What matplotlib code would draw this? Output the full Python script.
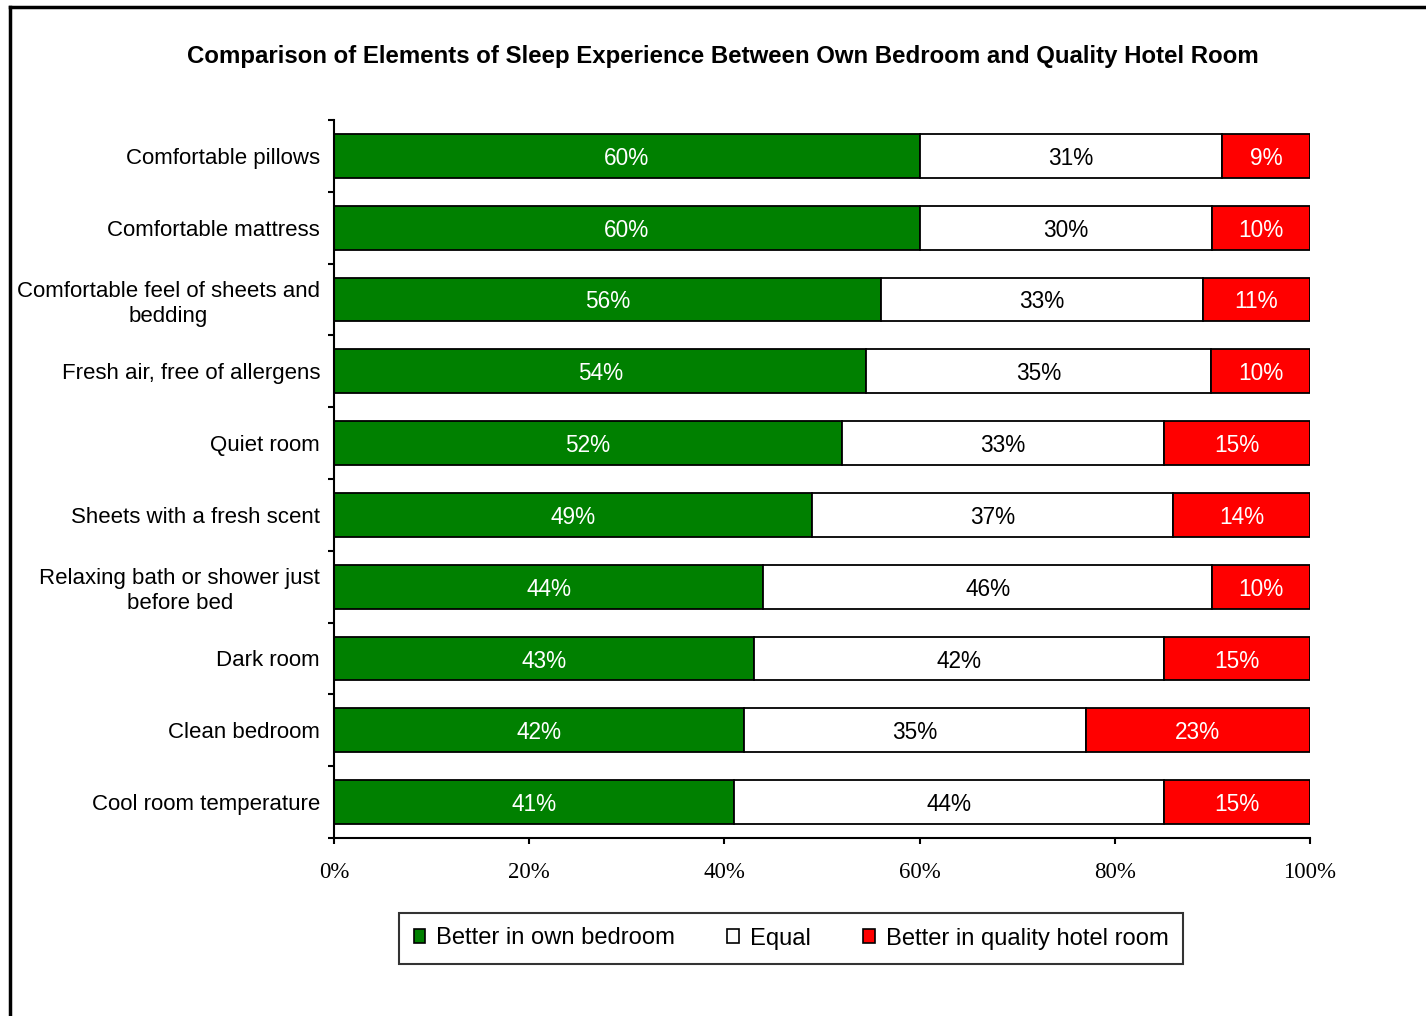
import matplotlib
matplotlib.use("Agg")
import matplotlib.pyplot as plt
from matplotlib.patches import Patch
from matplotlib.lines import Line2D
import numpy as np

categories = [
    "Comfortable pillows",
    "Comfortable mattress",
    "Comfortable feel of sheets and\nbedding",
    "Fresh air, free of allergens",
    "Quiet room",
    "Sheets with a fresh scent",
    "Relaxing bath or shower just\nbefore bed",
    "Dark room",
    "Clean bedroom",
    "Cool room temperature",
]
own_bedroom = [60, 60, 56, 54, 52, 49, 44, 43, 42, 41]
equal = [31, 30, 33, 35, 33, 37, 46, 42, 35, 44]
hotel_room = [9, 10, 11, 10, 15, 14, 10, 15, 23, 15]

series_names = ["Better in own bedroom", "Equal", "Better in quality hotel room"]
series_colors = ["#008000", "#ffffff", "#ff0000"]
text_colors = ["white", "black", "white"]
x_ticks = [0, 20, 40, 60, 80, 100]

sans = "Liberation Sans"
serif = "Liberation Serif"

fig = plt.figure(figsize=(14.26, 10.16), dpi=100, facecolor="white")
ax = fig.add_axes([334 / 1426, 178 / 1016, 976 / 1426, 718 / 1016])

data = np.array([own_bedroom, equal, hotel_room], dtype=float)
shares = data / data.sum(axis=0) * 100  # 100% stacked, like the spreadsheet chart
ypos = np.arange(len(categories))
left = np.zeros(len(categories))
for i in range(3):
    ax.barh(ypos, shares[i], left=left, height=0.61, color=series_colors[i],
            edgecolor="black", linewidth=1.3, zorder=2)
    for y, l, w, v in zip(ypos, left, shares[i], data[i]):
        ax.text(l + w / 2, y, "%d%%" % v, ha="center", va="center_baseline",
                color=text_colors[i], fontsize=16.3, family=sans, zorder=3)
    left += shares[i]

ax.set_xlim(0, 100)
ax.set_ylim(len(categories) - 0.5, -0.5)

ax.spines["top"].set_visible(False)
ax.spines["right"].set_visible(False)
ax.spines["left"].set_linewidth(1.5)
ax.spines["bottom"].set_linewidth(1.5)

ax.set_xticks(x_ticks)
ax.set_xticklabels(["%d%%" % t for t in x_ticks], family=serif, fontsize=16.5)
ax.tick_params(axis="x", direction="out", length=4.5, width=1.5, pad=13)

# category names sit between the boundary ticks
ax.set_yticks(ypos)
ax.set_yticklabels(categories, family=sans, fontsize=16)
for lab in ax.get_yticklabels():
    lab.set_multialignment("center")
    lab.set_linespacing(1.25)
ax.tick_params(axis="y", which="major", length=0, pad=10)
ax.set_yticks(np.arange(-0.5, len(categories)), minor=True)
ax.tick_params(axis="y", which="minor", direction="out", length=4.5, width=1.5)

fig.text(0.5067, 1 - 56 / 1016,
         "Comparison of Elements of Sleep Experience Between Own Bedroom and Quality Hotel Room",
         ha="center", va="center", fontsize=17.3, fontweight="bold", family=sans)

handles = [Patch(facecolor=c, edgecolor="black", linewidth=1.2) for c in series_colors]
leg = fig.legend(handles, series_names, loc="center",
                 bbox_to_anchor=(791 / 1426, 1 - 938.5 / 1016), ncol=3,
                 frameon=True, fancybox=False, edgecolor="black",
                 handlelength=0.5, handleheight=0.5, handletextpad=0.45,
                 columnspacing=2.2, borderpad=0.62,
                 prop={"family": sans, "size": 17.1})
leg.get_frame().set_linewidth(1.5)

# outer chart border (only top and left edges fall inside the image)
fig.add_artist(Line2D([10 / 1426, 10 / 1426], [0, 1 - 7 / 1016],
                      transform=fig.transFigure, color="black", linewidth=2.5))
fig.add_artist(Line2D([10 / 1426, 1], [1 - 7 / 1016, 1 - 7 / 1016],
                      transform=fig.transFigure, color="black", linewidth=2.5))

fig.savefig("out.png", dpi=100, facecolor="white")
